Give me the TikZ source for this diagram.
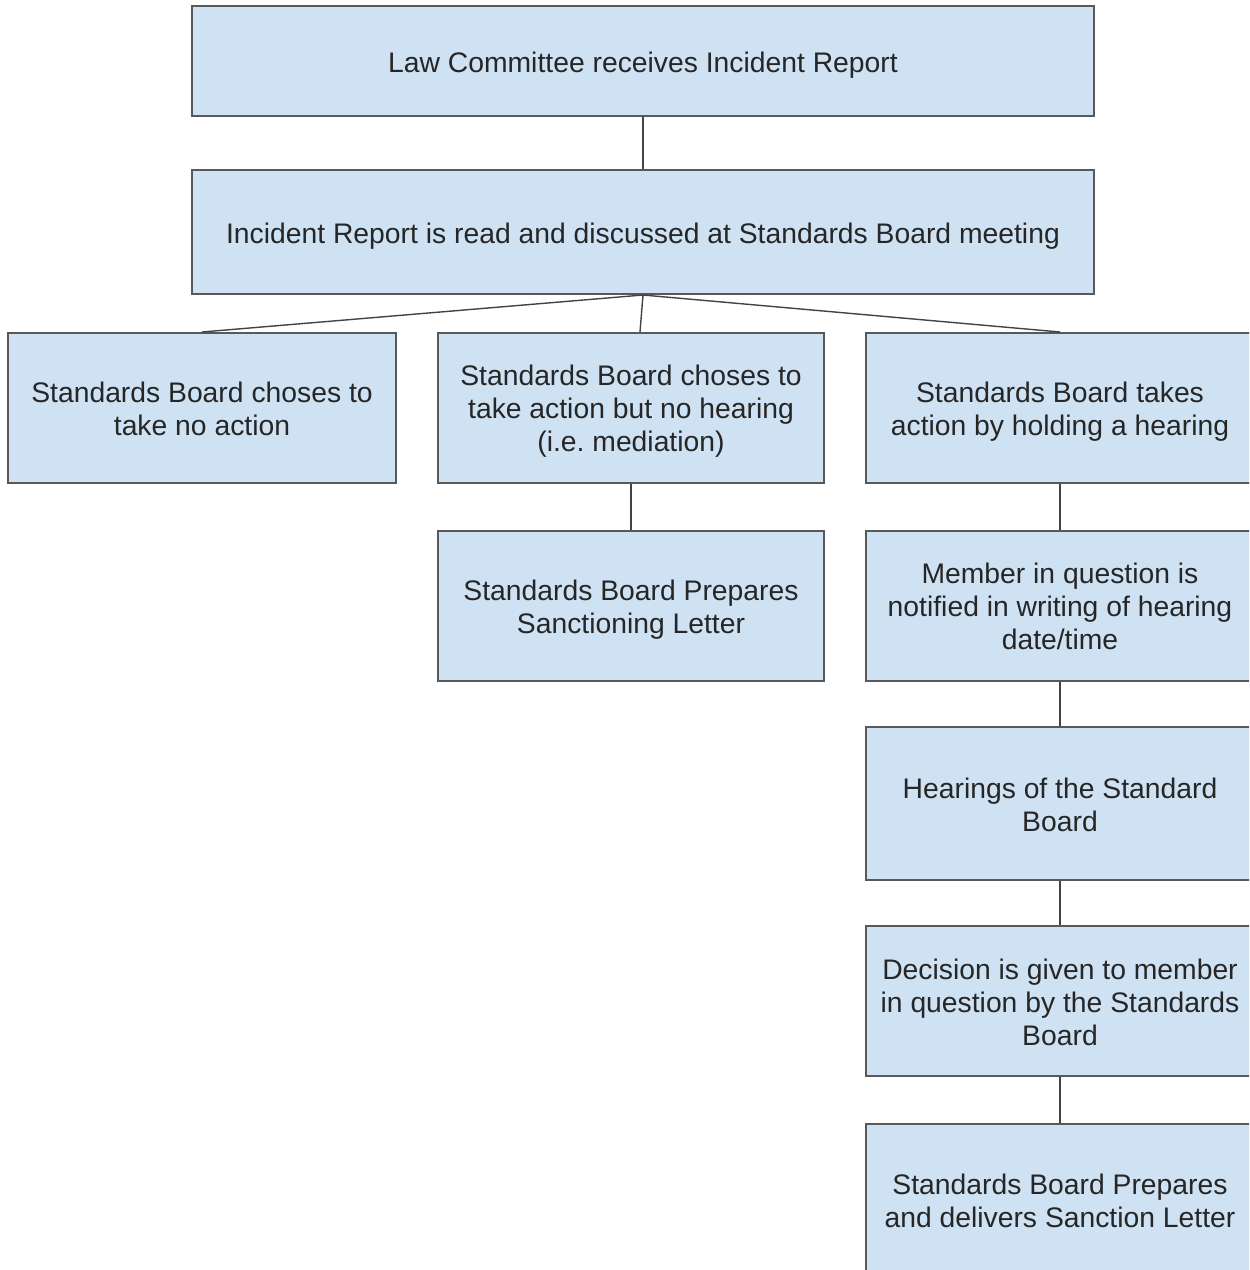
\documentclass[tikz,border=0pt]{standalone}
\usepackage{fontspec}
\setmainfont{Liberation Sans}
\frenchspacing
\definecolor{boxfill}{HTML}{CFE2F3}
\definecolor{boxline}{HTML}{595959}
\definecolor{conn}{HTML}{434343}
\begin{document}
\begin{tikzpicture}[x=0.5pt,y=-0.5pt,
  box/.style={draw=boxline, fill=boxfill, line width=1pt, rectangle, inner sep=0pt},
  txt/.style={inner sep=0pt, align=center, text=black!85, font=\fontsize{14.15}{16.5}\selectfont},
  link/.style={draw=conn, line width=0.7pt}]
\useasboundingbox (0,0) rectangle (1249,1270);
\clip (0,0) rectangle (1249,1270);
\fill[white] (0,0) rectangle (1249,1270);
% boxes
\node[box, minimum width=451pt, minimum height=55pt] (n1) at (643,61) {};
\node[box, minimum width=451pt, minimum height=62pt] (n2) at (643,232) {};
\node[box, minimum width=194pt, minimum height=75pt] (n3) at (202,408) {};
\node[box, minimum width=193pt, minimum height=75pt] (n4) at (631,408) {};
\node[box, minimum width=194pt, minimum height=75pt] (n5) at (1060,408) {};
\node[box, minimum width=193pt, minimum height=75pt] (n6) at (631,606) {};
\node[box, minimum width=194pt, minimum height=75pt] (n7) at (1060,606) {};
\node[box, minimum width=194pt, minimum height=76.5pt] (n8) at (1060,803.5) {};
\node[box, minimum width=194pt, minimum height=75pt] (n9) at (1060,1001) {};
\node[box, minimum width=194pt, minimum height=75pt] (n10) at (1060,1199) {};
% texts
\node[txt] (t1) at ([yshift=-2pt]n1.center) {Law Committee receives Incident Report};
\node[txt] (t2) at ([yshift=-2pt]n2.center) {Incident Report is read and discussed at Standards Board meeting};
\node[txt] (t3) at ([yshift=-0.5pt]n3.center) {Standards Board choses to\\take no action};
\node[txt] (t4) at ([yshift=-1.5pt]n4.center) {Standards Board choses to\\take action but no hearing\\(i.e. mediation)};
\node[txt] (t5) at ([yshift=-2pt]n5.center) {Standards Board takes\\action by holding a hearing};
\node[txt] (t6) at ([yshift=-2pt]n6.center) {Standards Board Prepares\\Sanctioning Letter};
\node[txt] (t7) at (n7.center) {Member in question is\\notified in writing of hearing\\date/time};
\node[txt] (t8) at ([yshift=-0.5pt]n8.center) {Hearings of the Standard\\Board};
\node[txt] (t9) at ([yshift=-0.5pt]n9.center) {Decision is given to member\\in question by the Standards\\Board};
\node[txt] (t10) at ([yshift=-1pt]n10.center) {Standards Board Prepares\\and delivers Sanction Letter};
% connectors
\draw[link] (n1.south) -- (n2.north);
\draw[link] (n2.south) -- (n3.north);
\draw[link] (n2.south) -- ([xshift=4.5pt]n4.north);
\draw[link] (n2.south) -- (n5.north);
\draw[link] (n4.south) -- (n6.north);
\draw[link] (n5.south) -- (n7.north);
\draw[link] (n7.south) -- (n8.north);
\draw[link] (n8.south) -- (n9.north);
\draw[link] (n9.south) -- (n10.north);
\end{tikzpicture}
\end{document}
